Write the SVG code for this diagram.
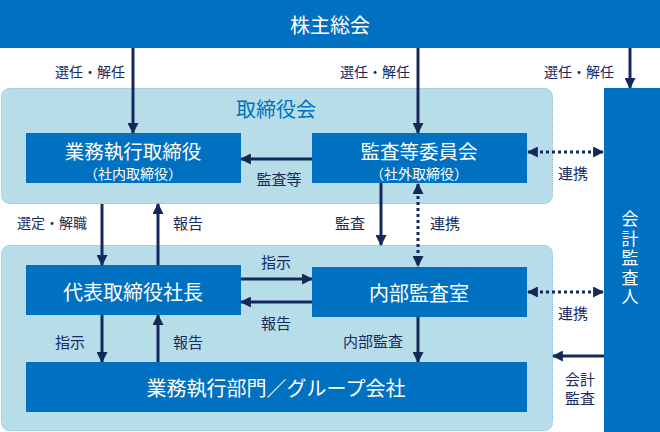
<svg xmlns="http://www.w3.org/2000/svg" width="660" height="432" viewBox="0 0 660 432">
<defs>
<marker id="ah" viewBox="0 0 10 10" refX="9" refY="5" markerWidth="11" markerHeight="11" markerUnits="userSpaceOnUse" orient="auto-start-reverse">
<path d="M0,0 L10,5 L0,10 z" fill="#14285a"/>
</marker>
<style>
text{font-family:"Noto Sans CJK JP","Noto Sans",sans-serif;}
.box{fill:#0070c0;}
.grp{fill:#b7dde8;stroke:#7fb2d8;stroke-width:1;stroke-dasharray:1 1;}
.t{fill:#ffffff;font-size:20px;text-anchor:middle;dominant-baseline:central;}
.s{fill:#ffffff;font-size:14px;text-anchor:middle;dominant-baseline:central;}
.l{fill:#1a2a5e;font-size:15px;text-anchor:middle;dominant-baseline:central;}
.l2{fill:#1a2a5e;font-size:14px;text-anchor:middle;dominant-baseline:central;}
.ln{stroke:#14285a;stroke-width:3;fill:none;marker-end:url(#ah);}
.dt{stroke:#14285a;stroke-width:3;fill:none;stroke-dasharray:3 3;marker-end:url(#ah);marker-start:url(#ah);}
</style>
</defs>
<g id="group-board">
<rect class="grp" x="1.5" y="88.5" width="551" height="115" rx="8"/>
<text x="276" y="108" style="fill:#0070c0;font-size:20px;text-anchor:middle;dominant-baseline:central">取締役会</text>
</g>
<g id="group-exec">
<rect class="grp" x="1.5" y="245.5" width="551" height="185" rx="8"/>
</g>
<g id="shareholders">
<rect class="box" x="0" y="0" width="660" height="48"/>
<text class="t" x="330" y="24">株主総会</text>
</g>
<g id="exec-directors">
<rect class="box" x="26" y="133" width="215" height="50"/>
<text class="t" x="133" y="150" style="font-size:19.5px">業務執行取締役</text>
<text class="s" x="133" y="173">（社内取締役）</text>
</g>
<g id="audit-committee">
<rect class="box" x="312" y="133" width="215" height="50"/>
<text class="t" x="419" y="150" style="font-size:19.5px">監査等委員会</text>
<text class="s" x="419" y="173">（社外取締役）</text>
</g>
<g id="president">
<rect class="box" x="26" y="265" width="215" height="50"/>
<text class="t" x="133" y="291">代表取締役社長</text>
</g>
<g id="internal-audit">
<rect class="box" x="312" y="267" width="215" height="50"/>
<text class="t" x="419" y="292">内部監査室</text>
</g>
<g id="business-units">
<rect class="box" x="26" y="362" width="501" height="50"/>
<text class="t" x="276" y="387">業務執行部門／グループ会社</text>
</g>
<g id="auditor">
<rect class="box" x="604" y="88" width="56" height="344"/>
<text x="630" y="259" style="fill:#ffffff;font-size:17px;writing-mode:vertical-rl;text-anchor:middle;letter-spacing:2.5px">会計監査人</text>
</g>
<g id="connectors">
<line class="ln" x1="133" y1="48" x2="133" y2="133"/>
<line class="ln" x1="418" y1="48" x2="418" y2="133"/>
<line class="ln" x1="630" y1="48" x2="630" y2="88"/>
<line class="ln" x1="312" y1="159" x2="241" y2="159"/>
<line class="dt" x1="528" y1="152" x2="603" y2="152"/>
<line class="ln" x1="102" y1="204" x2="102" y2="265"/>
<line class="ln" x1="158" y1="265" x2="158" y2="204"/>
<line class="ln" x1="381" y1="183" x2="381" y2="245"/>
<line class="dt" x1="418" y1="184" x2="418" y2="266"/>
<line class="ln" x1="241" y1="279" x2="312" y2="279"/>
<line class="ln" x1="312" y1="302" x2="241" y2="302"/>
<line class="dt" x1="528" y1="292" x2="603" y2="292"/>
<line class="ln" x1="102" y1="315" x2="102" y2="362"/>
<line class="ln" x1="158" y1="362" x2="158" y2="315"/>
<line class="ln" x1="418" y1="317" x2="418" y2="362"/>
<line class="ln" x1="604" y1="356" x2="553" y2="356"/>
<text class="l2" x="90" y="71">選任・解任</text>
<text class="l2" x="375" y="71">選任・解任</text>
<text class="l2" x="579" y="71">選任・解任</text>
<text class="l" x="279" y="178">監査等</text>
<text class="l" x="573" y="172">連携</text>
<text class="l2" x="52" y="222">選定・解職</text>
<text class="l" x="188" y="222">報告</text>
<text class="l" x="350" y="222">監査</text>
<text class="l" x="445" y="222">連携</text>
<text class="l" x="276" y="261">指示</text>
<text class="l" x="276" y="322">報告</text>
<text class="l" x="573" y="312">連携</text>
<text class="l" x="70" y="341">指示</text>
<text class="l" x="188" y="341">報告</text>
<text class="l" x="373" y="340">内部監査</text>
<text class="l" x="580" y="378">会計</text>
<text class="l" x="580" y="397">監査</text>
</g>
</svg>
